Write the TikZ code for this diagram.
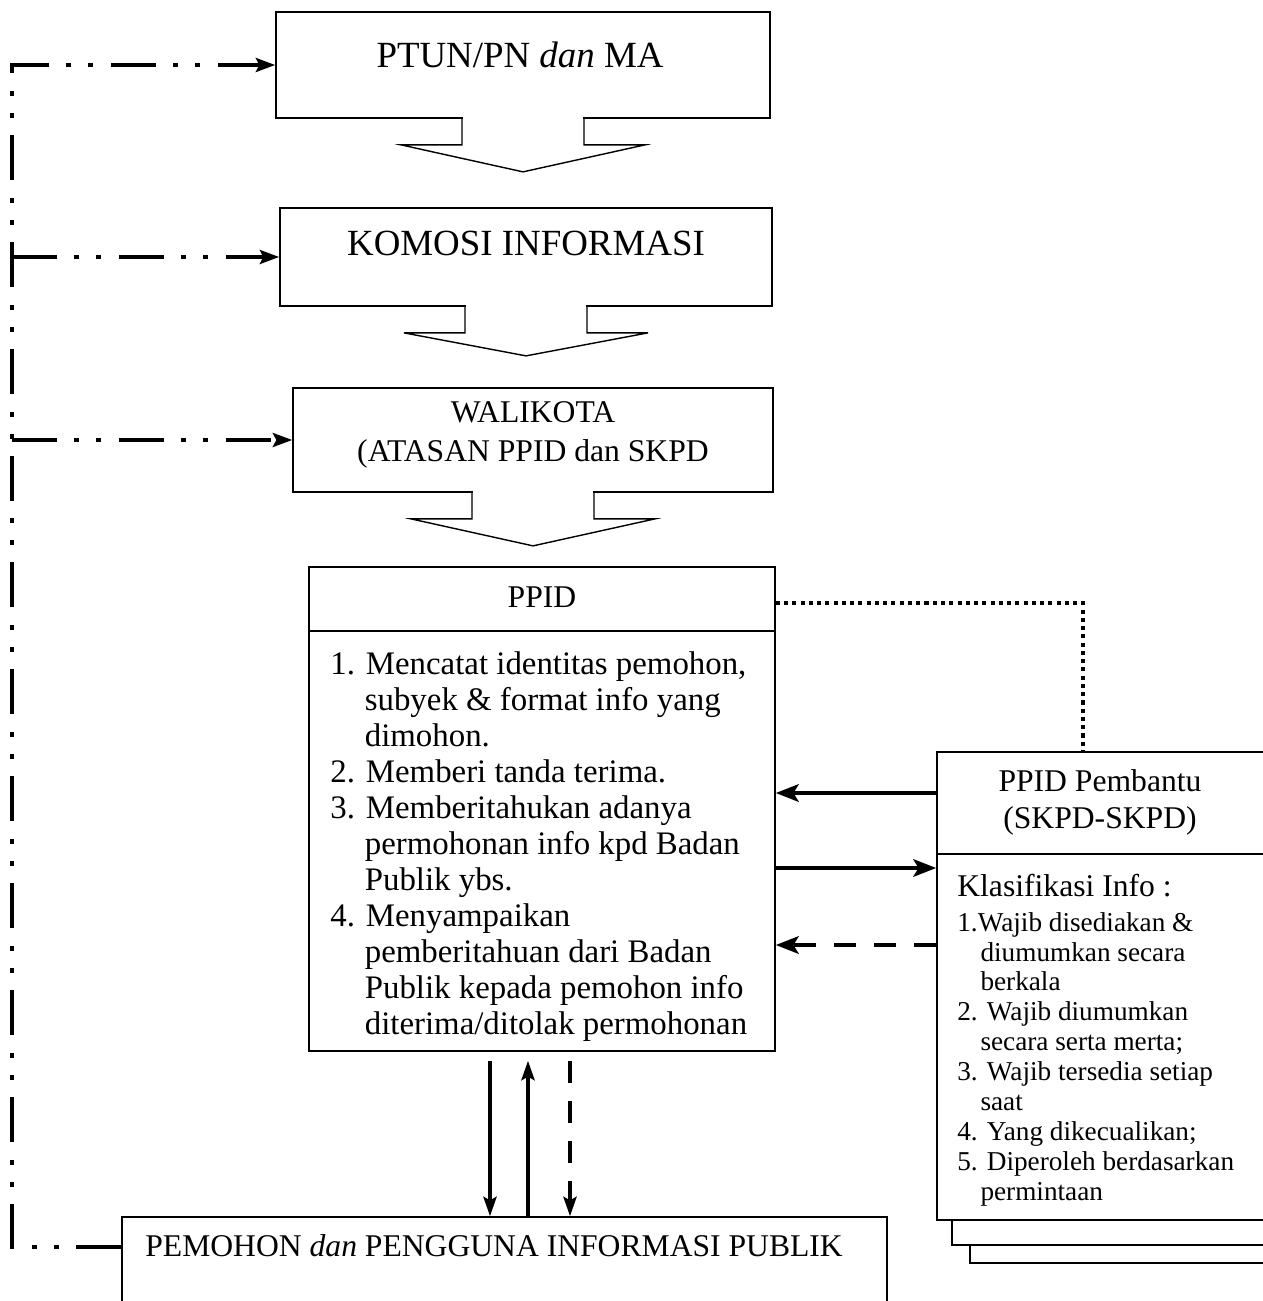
\documentclass[tikz,border=0pt]{standalone}
\usepackage{fontspec}
\setmainfont{Liberation Serif}
\usetikzlibrary{arrows.meta}

\begin{document}
\begin{tikzpicture}[x=0.02cm,y=-0.02cm]
\tikzstyle{every node}+=[inner sep=0pt]
\tikzstyle{box}=[draw=black,line width=1pt,fill=white]
\tikzstyle{chevron}=[draw=black,line width=0.8pt,line join=miter]
\tikzstyle{bigtext}=[font=\fontsize{21}{24}\selectfont]
\tikzstyle{midtext}=[font=\fontsize{18}{21}\selectfont]
\tikzstyle{listtext}=[font=\fontsize{18.7}{20.5}\selectfont]
\tikzstyle{smalltext}=[font=\fontsize{15.5}{17}\selectfont]
\tikzstyle{flow}=[draw=black,line width=2.2pt,-{Stealth[length=13pt,width=10pt,inset=3pt]}]
\tikzstyle{updown}=[draw=black,line width=2pt,-{Stealth[length=11pt,width=7.5pt,inset=2pt]}]
\tikzstyle{dashdot}=[draw=black,line width=2pt,dash pattern=on 0.9cm off 0.34cm on 0.1cm off 0.34cm on 0.1cm off 0.36cm,-{Stealth[length=11pt,width=8pt,inset=2pt]}]
\tikzstyle{dotline}=[draw=black,line width=2.3pt,dash pattern=on 2.3pt off 2.4pt]
\tikzstyle{dashline}=[dash pattern=on 0.44cm off 0.36cm]
\path [use as bounding box,fill=white] (0,0) rectangle (1263,1301);
% helper rows and columns
\coordinate (trunk) at (12,0);
\coordinate (dotx) at (1083,0);
\coordinate (rowd) at (0,603);
\coordinate (rowa) at (0,793);
\coordinate (rowb) at (0,868);
\coordinate (rowc) at (0,945);
\coordinate (cola) at (490,0);
\coordinate (colb) at (528,0);
\coordinate (colc) at (570,0);
% upper chain
\node [box,minimum width=9.88cm,minimum height=2.12cm] (ptun) at (523,65) {};
\node [bigtext] (ptunlbl) at (520,55) {PTUN/PN \textit{dan} MA};
\fill [white] (ptun.south) ++(-60,-2) rectangle ++(120,4);
\draw [chevron] (ptun.south) ++(-61,0) -- ++(0,26) -- ++(-61,0) -- ++(122,27) -- ++(122,-27) -- ++(-61,0) -- ++(0,-26);
\node [box,minimum width=9.84cm,minimum height=1.96cm] (komosi) at (526,257) {};
\node [bigtext] (komosilbl) at (526,243) {KOMOSI INFORMASI};
\fill [white] (komosi.south) ++(-60,-2) rectangle ++(120,4);
\draw [chevron] (komosi.south) ++(-61,0) -- ++(0,26) -- ++(-61,0) -- ++(122,23) -- ++(122,-23) -- ++(-61,0) -- ++(0,-26);
\node [box,minimum width=9.6cm,minimum height=2.08cm] (walikota) at (533,440) {};
\node [midtext,align=center,font=\fontsize{18}{22}\selectfont] (walikotalbl) at (533,435) {WALIKOTA\\(ATASAN PPID dan SKPD};
\fill [white] (walikota.south) ++(-60,-2) rectangle ++(120,4);
\draw [chevron] (walikota.south) ++(-61,0) -- ++(0,26) -- ++(-61,0) -- ++(122,27) -- ++(122,-27) -- ++(-61,0) -- ++(0,-26);
% PPID
\node [box,minimum width=9.32cm,minimum height=9.68cm] (ppid) at (542,809) {};
\draw [line width=1pt] ([yshift=-1.3cm]ppid.north west) -- ([yshift=-1.3cm]ppid.north east);
\node [midtext] (ppidlbl) at (542,597) {PPID};
\node [listtext,anchor=north west,align=left] (ppidlist) at (330,651) {1. Mencatat identitas pemohon,\\
\hspace*{1.05em}subyek \& format info yang\\
\hspace*{1.05em}dimohon.\\
2. Memberi tanda terima.\\
3. Memberitahukan adanya\\
\hspace*{1.05em}permohonan info kpd Badan\\
\hspace*{1.05em}Publik ybs.\\
4. Menyampaikan\\
\hspace*{1.05em}pemberitahuan dari Badan\\
\hspace*{1.05em}Publik kepada pemohon info\\
\hspace*{1.05em}diterima/ditolak permohonan};
% PPID Pembantu, stacked sheets
\draw [box] (970,790) rectangle (1320,1263);
\draw [box] (952,770) rectangle (1310,1245);
\node [box,minimum width=6.92cm,minimum height=9.36cm] (pembantu) at (1110,986) {};
\draw [line width=1pt] ([yshift=-2.06cm]pembantu.north west) -- ([yshift=-2.06cm]pembantu.north east);
\node [midtext,align=center,font=\fontsize{18}{21}\selectfont] (pembantulbl) at (1100,802) {PPID Pembantu\\(SKPD-SKPD)};
\node [midtext,anchor=north west] (klastitle) at (957,874) {Klasifikasi Info :};
\node [smalltext,anchor=north west,align=left] (klaslist) at (957,912) {1.Wajib disediakan \&\\
\hspace*{0.85em}diumumkan secara\\
\hspace*{0.85em}berkala\\
2. Wajib diumumkan\\
\hspace*{0.85em}secara serta merta;\\
3. Wajib tersedia setiap\\
\hspace*{0.85em}saat\\
4. Yang dikecualikan;\\
5. Diperoleh berdasarkan\\
\hspace*{0.85em}permintaan};
% pemohon
\node [box,minimum width=15.3cm,minimum height=2.46cm] (pemohon) at (504.5,1278.5) {};
\node [midtext,anchor=west] (pemohonlbl) at (145,1246) {PEMOHON \textit{dan} PENGGUNA INFORMASI PUBLIK};
\coordinate (ppidfoot) at ([yshift=-0.18cm]ppid.south);
% connectors
\draw [dashdot] ([yshift=-0.62cm]pemohon.north west) -| (trunk |- ptun.west) -- (ptun.west);
\draw [dashdot] (trunk |- komosi.west) -- (komosi.west);
\draw [dashdot] (trunk |- walikota.west) -- (walikota.west);
\draw [dotline] (ppid.east |- rowd) -| (dotx |- pembantu.north);
\draw [flow] (pembantu.west |- rowa) -- (ppid.east |- rowa);
\draw [flow] (ppid.east |- rowb) -- (pembantu.west |- rowb);
\draw [flow,dashline] (pembantu.west |- rowc) -- (ppid.east |- rowc);
\draw [updown] (cola |- ppidfoot) -- (cola |- pemohon.north);
\draw [updown] (colb |- pemohon.north) -- (colb |- ppidfoot);
\draw [updown,dashline] (colc |- ppidfoot) -- (colc |- pemohon.north);
\end{tikzpicture}
\end{document}
